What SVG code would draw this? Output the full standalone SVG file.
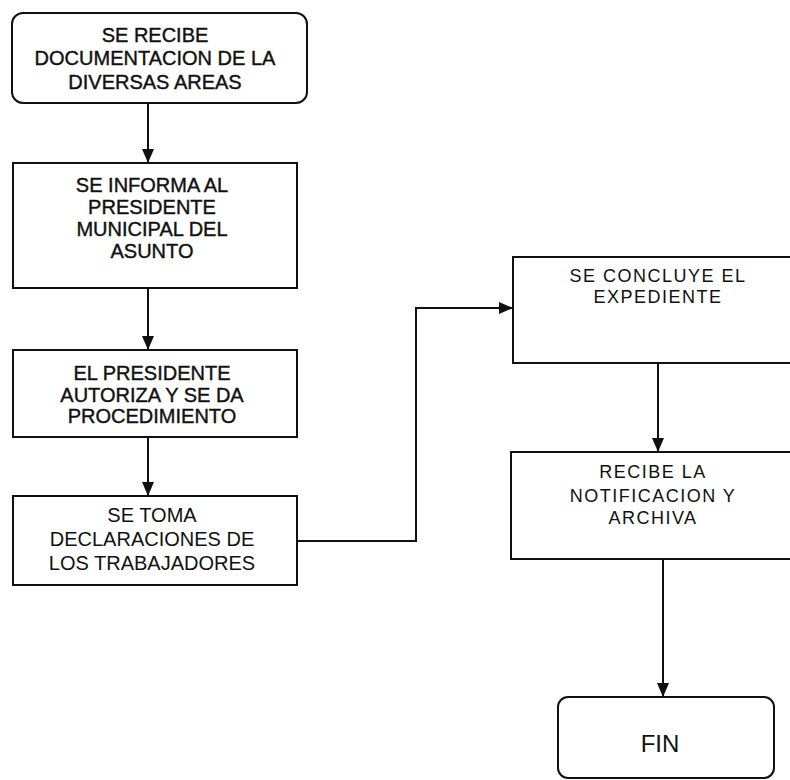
<svg xmlns="http://www.w3.org/2000/svg" width="790" height="780" viewBox="0 0 790 780">
<style>
.box{fill:#fff;stroke:#111;stroke-width:2}
.t{font-family:"Liberation Sans",Arial,sans-serif;font-size:20px;fill:#111;text-anchor:middle}
.b{stroke:#111;stroke-width:0.4px}
.r{font-size:18px;letter-spacing:1.5px}
.fin{font-size:24px}
.c{fill:none;stroke:#111;stroke-width:2}
</style>
<defs>
<marker id="ah" viewBox="0 0 14 12" refX="14" refY="6" markerWidth="14" markerHeight="12" markerUnits="userSpaceOnUse" orient="auto">
<path d="M0,0 L14,6 L0,12 z" fill="#111"/>
</marker>
</defs>
<rect width="790" height="780" fill="#fff"/>
<g id="connectors">
<path class="c" d="M148,103 V163" marker-end="url(#ah)"/>
<path class="c" d="M148,288 V350" marker-end="url(#ah)"/>
<path class="c" d="M148,437 V496" marker-end="url(#ah)"/>
<path class="c" d="M297,541 H416 V308 H513" marker-end="url(#ah)"/>
<path class="c" d="M658,363 V452" marker-end="url(#ah)"/>
<path class="c" d="M663,559 V697" marker-end="url(#ah)"/>
</g>
<g id="n1">
<rect class="box" x="12" y="13" width="295" height="90" rx="11"/>
<text class="t b" x="155" y="42">SE RECIBE</text>
<text class="t b" x="155" y="65">DOCUMENTACION DE LA</text>
<text class="t b" x="155" y="89">DIVERSAS AREAS</text>
</g>
<g id="n2">
<rect class="box" x="13" y="163" width="284" height="125"/>
<text class="t b" x="152" y="192">SE INFORMA AL</text>
<text class="t b" x="152" y="214">PRESIDENTE</text>
<text class="t b" x="152" y="236">MUNICIPAL DEL</text>
<text class="t b" x="152" y="258">ASUNTO</text>
</g>
<g id="n3">
<rect class="box" x="13" y="350" width="284" height="87"/>
<text class="t b" x="152" y="380">EL PRESIDENTE</text>
<text class="t b" x="152" y="402">AUTORIZA Y SE DA</text>
<text class="t b" x="152" y="423">PROCEDIMIENTO</text>
</g>
<g id="n4">
<rect class="box" x="13" y="496" width="284" height="89"/>
<text class="t" x="152" y="522">SE TOMA</text>
<text class="t" x="152" y="546">DECLARACIONES DE</text>
<text class="t" x="152" y="570">LOS TRABAJADORES</text>
</g>
<g id="n5">
<rect class="box" x="513" y="257" width="290" height="106"/>
<text class="t r" x="658" y="282">SE CONCLUYE EL</text>
<text class="t r" x="658" y="303">EXPEDIENTE</text>
</g>
<g id="n6">
<rect class="box" x="511" y="452" width="292" height="107"/>
<text class="t r" x="653" y="478">RECIBE LA</text>
<text class="t r" x="653" y="502">NOTIFICACION Y</text>
<text class="t r" x="653" y="524">ARCHIVA</text>
</g>
<g id="fin">
<rect class="box" x="558" y="697" width="216" height="81" rx="10"/>
<text class="t fin" x="660" y="752">FIN</text>
</g>
</svg>
